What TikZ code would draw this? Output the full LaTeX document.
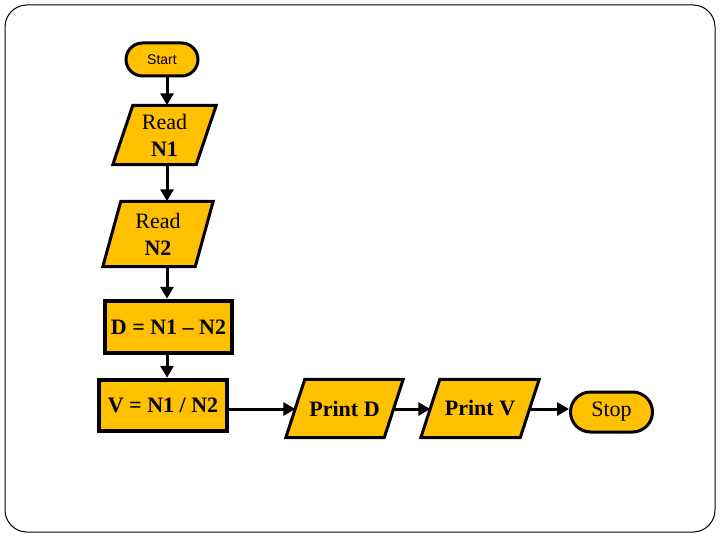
\documentclass[tikz,border=0pt]{standalone}
\usepackage{fontspec}
\setmainfont{Liberation Serif}
\newfontfamily\arialfont{Liberation Sans}
\usetikzlibrary{arrows.meta,shapes.misc}
\definecolor{gold}{HTML}{FFC000}
\begin{document}
\begin{tikzpicture}[x=1pt,y=-1pt,
  txt/.style={font=\fontsize{22}{27}\selectfont, align=center, inner sep=0pt},
  term/.style={rounded rectangle, draw, fill=gold, line width=3pt, inner sep=0pt},
  boxnode/.style={draw, fill=gold, line width=4.5pt, inner sep=0pt, txt},
  paraline/.style={draw, fill=gold, line width=3pt, line join=miter},
  arr/.style={line width=3pt, -{Triangle[length=12pt,width=13pt]}}]
\useasboundingbox (0,0) rectangle (720,540);
\draw[line width=1pt, rounded corners=22pt] (5,5) rectangle (715,532);

% helper coordinates
\coordinate (ax) at (167,0);
\coordinate (ay) at (0,409);

% terminals
\node[term, minimum width=72pt, minimum height=33pt, font=\arialfont\fontsize{14}{16}\selectfont] (start) at (162,59.5) {Start};
\node[term, minimum width=82pt, minimum height=40pt, font=\fontsize{22}{26}\selectfont] (stop) at (611.5,412) {Stop};

% parallelogram bodies (invisible rectangles giving the mid-width)
\node[txt, minimum width=83pt, minimum height=59pt] (rn1) at (164.5,135) {};
\node[txt, minimum width=92pt, minimum height=65pt] (rn2) at (158,234) {};
\node[txt, minimum width=98pt, minimum height=58pt] (pd) at (344.5,408.5) {};
\node[txt, minimum width=99pt, minimum height=58pt] (pv) at (480,408.5) {};

\draw[paraline] ([xshift=10pt]rn1.north west) -- ([xshift=10pt]rn1.north east) -- ([xshift=-10pt]rn1.south east) -- ([xshift=-10pt]rn1.south west) -- cycle;
\draw[paraline] ([xshift=9pt]rn2.north west) -- ([xshift=9pt]rn2.north east) -- ([xshift=-9pt]rn2.south east) -- ([xshift=-9pt]rn2.south west) -- cycle;
\draw[paraline] ([xshift=9.5pt]pd.north west) -- ([xshift=9.5pt]pd.north east) -- ([xshift=-9.5pt]pd.south east) -- ([xshift=-9.5pt]pd.south west) -- cycle;
\draw[paraline] ([xshift=9.5pt]pv.north west) -- ([xshift=9.5pt]pv.north east) -- ([xshift=-9.5pt]pv.south east) -- ([xshift=-9.5pt]pv.south west) -- cycle;

\node[txt] (rn1t) at (rn1.center) {Read\\\textbf{N1}};
\node[txt] (rn2t) at (rn2.center) {Read\\\textbf{N2}};
\node[txt] (pdt) at (pd.center) {\textbf{Print D}};
\node[txt] (pvt) at (pv.center) {\textbf{Print V}};

% process boxes
\node[boxnode, minimum width=127pt, minimum height=52pt] (d) at (168.5,327) {\textbf{D = N1 – N2}};
\node[boxnode, minimum width=128pt, minimum height=51pt] (v) at (163,405.5) {\textbf{V = N1 / N2}};

% connectors
\draw[arr] (start.south -| ax) -- (rn1.north -| ax);
\draw[arr] (rn1.south -| ax) -- (rn2.north -| ax);
\draw[arr] (rn2.south -| ax) -- (d.north -| ax);
\draw[arr] (d.south -| ax) -- (v.north -| ax);
\draw[arr] (v.east |- ay) -- (pd.west |- ay);
\draw[arr] (pd.east |- ay) -- (pv.west |- ay);
\draw[arr] (pv.east |- ay) -- (stop.west |- ay);
\end{tikzpicture}
\end{document}
